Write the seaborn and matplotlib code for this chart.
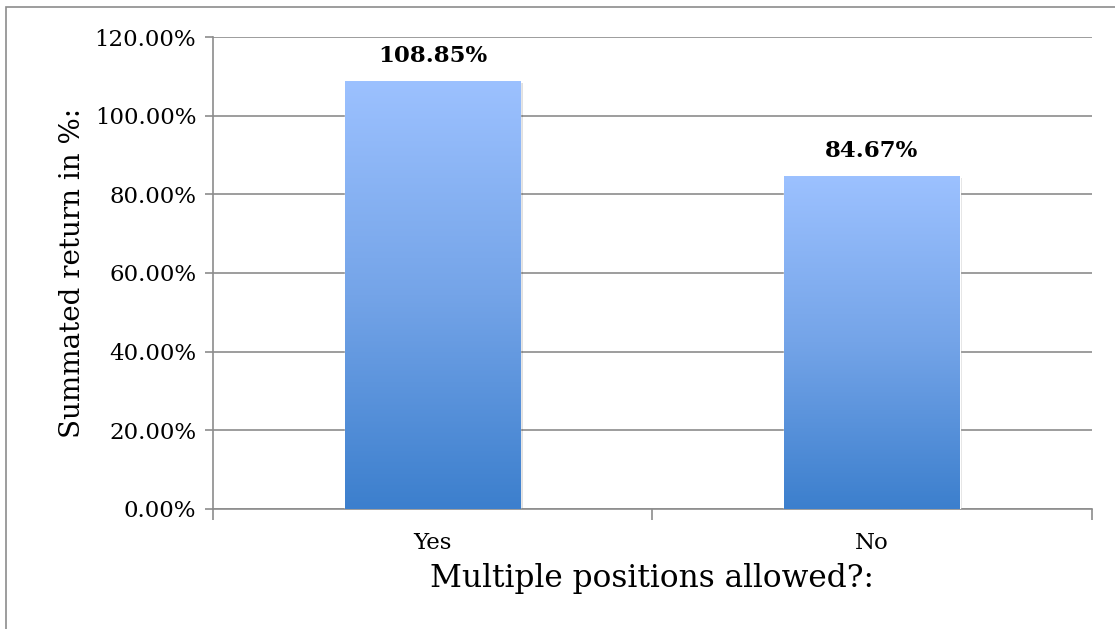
import numpy as np
import pandas as pd
import seaborn as sns
import matplotlib.pyplot as plt
from matplotlib.colors import LinearSegmentedColormap
from matplotlib.patches import Rectangle
from matplotlib.ticker import FuncFormatter, MultipleLocator, FixedLocator

categories = ["Yes", "No"]
returns = [108.85, 84.67]
bar_labels = ["108.85%", "84.67%"]

df = pd.DataFrame({"allowed": categories, "ret": returns})

sns.set_style("white")
plt.rcParams['font.family'] = ['DejaVu Serif']
plt.rcParams['text.color'] = 'black'
plt.rcParams['axes.labelcolor'] = 'black'
plt.rcParams['xtick.labelcolor'] = 'black'
plt.rcParams['ytick.labelcolor'] = 'black'

fig = plt.figure(figsize=(11.15, 6.29), dpi=100)
ax = fig.add_axes([0.191, 0.191, 0.788, 0.750])

sns.barplot(data=df, x="allowed", y="ret", ax=ax, width=0.4, color="#6fa0e8", zorder=3)

# gradient fill, light on top, dark at bottom
cmap = LinearSegmentedColormap.from_list("bars", ["#3c7fcd", "#74a4e8", "#9cc1ff"])
grad = np.linspace(0, 1, 256).reshape(-1, 1)
for p in list(ax.patches):
    x0, y0 = p.get_x(), p.get_y()
    w, h = p.get_width(), p.get_height()
    shadow = Rectangle((x0 + 0.006, y0 - 0.6), w, h, facecolor="#000000", alpha=0.12,
                       edgecolor="none", zorder=2)
    ax.add_patch(shadow)
    im = ax.imshow(grad, extent=[x0, x0 + w, y0, y0 + h], origin="lower", cmap=cmap,
                   aspect="auto", zorder=3.5)
    im.set_clip_path(p)
    p.set_facecolor("none")

for i, lab in enumerate(bar_labels):
    ax.text(i, returns[i] + 3.5, lab, ha="center", va="bottom", fontsize=16.5,
            fontweight="bold", color="black", zorder=5)

ax.set_xlim(-0.5, 1.5)
ax.set_ylim(0, 120)
ax.yaxis.set_major_locator(MultipleLocator(20))
ax.yaxis.set_major_formatter(FuncFormatter(lambda v, pos: f"{v:.2f}%"))
ax.grid(axis="y", color="#8c8c8c", linewidth=1.2, zorder=0)
ax.set_axisbelow(True)

for s in ["top", "right"]:
    ax.spines[s].set_visible(False)
for s in ["left", "bottom"]:
    ax.spines[s].set_color("#8c8c8c")
    ax.spines[s].set_linewidth(1.2)

ax.tick_params(axis="y", which="major", direction="out", length=6, width=1.2,
               color="#8c8c8c", labelsize=16.5, pad=6, left=True)
ax.tick_params(axis="x", which="major", length=0, labelsize=16.5, pad=17)
ax.xaxis.set_minor_locator(FixedLocator([-0.5, 0.5, 1.5]))
ax.tick_params(axis="x", which="minor", direction="out", length=8, width=1.2,
               color="#8c8c8c", bottom=True)

ax.set_xlabel("Multiple positions allowed?:", fontsize=22.5, labelpad=6)
ax.set_ylabel("Summated return in %:", fontsize=20, labelpad=6)

# outer chart frame
fig.patches.append(Rectangle((6 / 1115, -0.1), 1.2, (629 - 7) / 629 + 0.1,
                             transform=fig.transFigure, facecolor="none",
                             edgecolor="#8c8c8c", linewidth=1.2))

fig.savefig("out.png", dpi=100)
